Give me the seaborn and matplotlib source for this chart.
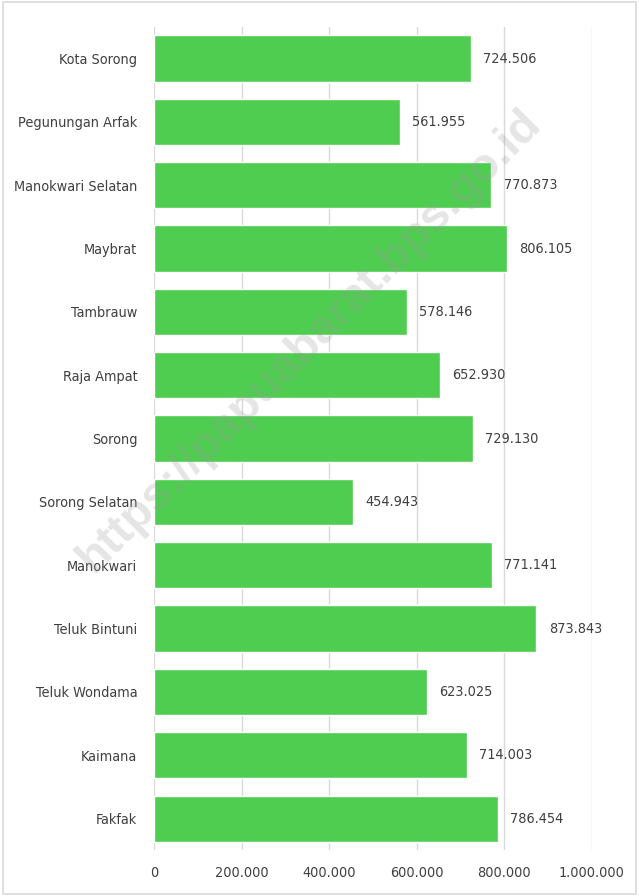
import matplotlib
matplotlib.use("Agg")
import matplotlib.pyplot as plt
import seaborn as sns
import pandas as pd

regions = ["Kota Sorong", "Pegunungan Arfak", "Manokwari Selatan", "Maybrat", "Tambrauw",
           "Raja Ampat", "Sorong", "Sorong Selatan", "Manokwari", "Teluk Bintuni",
           "Teluk Wondama", "Kaimana", "Fakfak"]
values = [724506, 561955, 770873, 806105, 578146, 652930, 729130, 454943,
          771141, 873843, 623025, 714003, 786454]
ticks = [0, 200000, 400000, 600000, 800000, 1000000]

df = pd.DataFrame({"region": regions, "value": values})

sns.set_style("white")
plt.rcParams['font.family'] = ['DejaVu Sans']
plt.rcParams['font.stretch'] = 'condensed'


def dotfmt(v):
    return f"{v:,.0f}".replace(",", ".")


fig = plt.figure(figsize=(6.39, 8.96), dpi=100)
ax = fig.add_axes([0.241, 0.051, 0.685, 0.919])

sns.barplot(data=df, x="value", y="region", orient="h", color="#4ECD50",
            saturation=1, width=0.73, ax=ax, zorder=2)

ax.set_xlim(0, 1000000)
ax.set_xticks(ticks)
ax.set_xticklabels([dotfmt(t) for t in ticks], fontsize=10.4, color="#404040",
                   fontstretch="condensed")
for lab in ax.get_yticklabels():
    lab.set_fontstretch("condensed")
ax.tick_params(axis="y", labelsize=10.4, labelcolor="#404040", length=0, pad=12)
ax.tick_params(axis="x", length=0, pad=11)
ax.grid(axis="x", color="#D9D9D9", linewidth=1, zorder=0)
ax.set_axisbelow(True)
for s in ax.spines.values():
    s.set_visible(False)
ax.set_xlabel("")
ax.set_ylabel("")

for i, v in enumerate(values):
    ax.text(v + 28000, i, dotfmt(v), va="center", ha="left", fontsize=10.4, color="#404040",
            fontstretch="condensed")

fig.text(0.485, 0.62, "https://papuabarat.bps.go.id", rotation=45, ha="center", va="center",
         fontsize=34, fontweight="bold", color="#999999", alpha=0.25, zorder=10,
         family=["Liberation Sans", "DejaVu Sans"], fontstretch="normal")

fig.patches.append(plt.Rectangle((0.004, 0.002), 0.992, 0.996, transform=fig.transFigure,
                                 fill=False, edgecolor="#D9D9D9", linewidth=1.2))

fig.savefig("out.png", dpi=100)
